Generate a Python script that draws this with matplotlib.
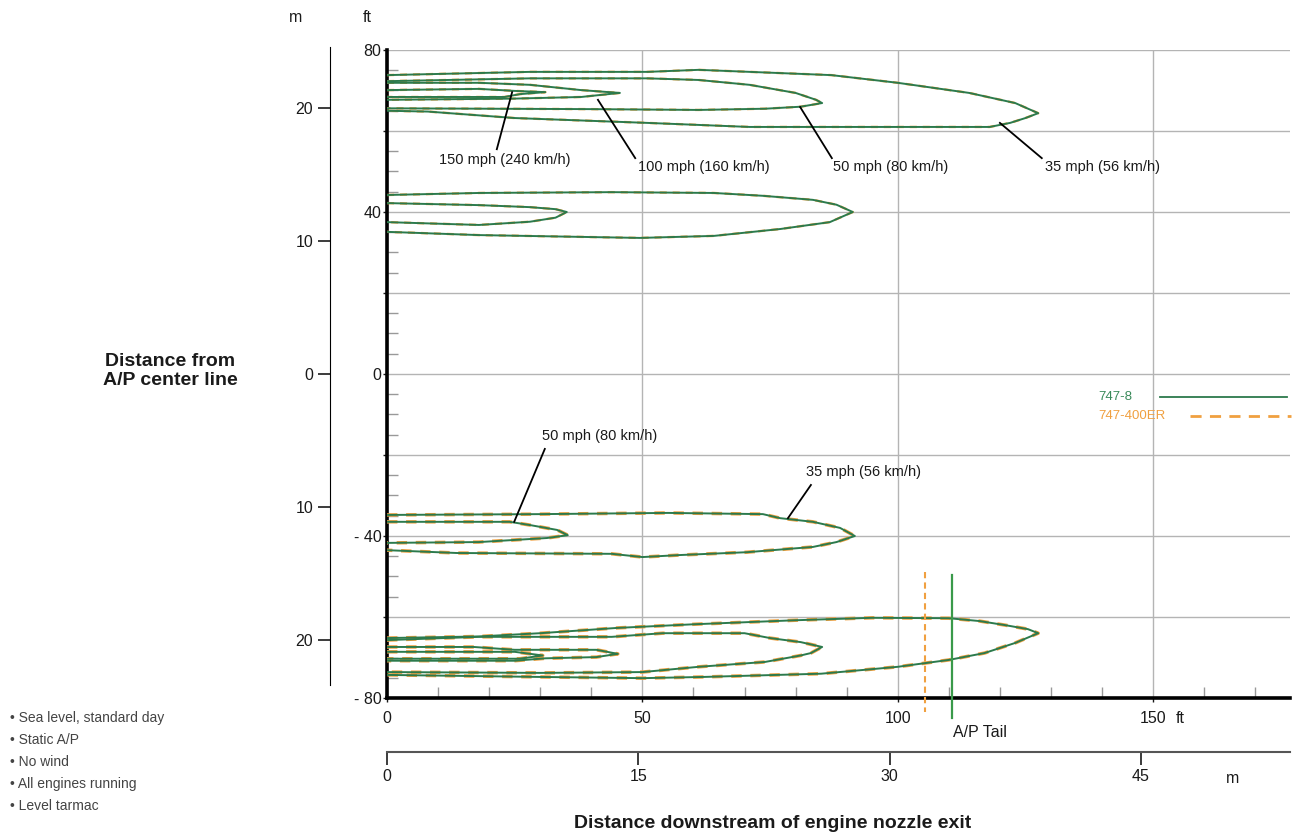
import numpy as np
import matplotlib.pyplot as plt

plt.rcParams['font.family'] = ['Liberation Sans', 'DejaVu Sans']

# jet blast contours of the 747-8
# x = ft downstream of nozzle, y = ft from airplane centre line
# every contour: upper edge and lower edge, both from nozzle to tip

# outboard engine, upper side
a35_up = [(0, 73.8), (28, 74.6), (51, 74.6), (61, 75.1), (71, 74.6), (87, 73.8), (100, 71.9), (114, 69.4), (123, 66.9), (127.5, 64.4)]
a35_lo = [(0, 65.0), (8, 64.8), (25, 63.2), (51, 62.0), (71, 61.0), (100, 61.0), (118, 61.0), (122, 62.0), (125, 63.2), (127.5, 64.4)]
a50_up = [(0, 72.3), (28, 73.0), (51, 73.0), (61, 72.6), (71, 71.4), (80, 69.4), (84, 67.7), (85.2, 66.9)]
a50_lo = [(0, 65.6), (40, 65.4), (61, 65.2), (74, 65.5), (81, 66.0), (85.2, 66.9)]
a100_up = [(0, 71.9), (18, 71.9), (28, 71.4), (38, 70.1), (45.6, 69.4)]
a100_lo = [(0, 67.7), (25, 68.0), (38, 68.4), (45.6, 69.4)]
a150_up = [(0, 70.1), (18, 70.4), (25, 69.9), (31, 69.6)]
a150_lo = [(0, 68.4), (23, 68.4), (26, 69.1), (31, 69.6)]

# inboard engine, upper side
b35_up = [(0, 44.2), (18, 44.7), (44, 44.9), (64, 44.7), (73.6, 44.0), (83.4, 43.0), (88, 41.8), (91.2, 40.0)]
b35_lo = [(0, 35.1), (18, 34.3), (49.5, 33.6), (64, 34.1), (77, 35.8), (86.7, 37.5), (91.2, 40.0)]
b50_up = [(0, 42.2), (18, 41.7), (28, 41.2), (33, 40.7), (35.2, 40.0)]
b50_lo = [(0, 37.5), (18, 36.8), (28, 37.6), (33, 38.6), (35.2, 40.0)]

# inboard engine, lower side
c35_up = [(0, -34.8), (30, -34.6), (55, -34.3), (73.6, -34.6), (77, -35.6), (83.4, -36.5), (88.7, -38.0), (91.6, -40.0)]
c35_lo = [(0, -43.5), (13.7, -44.2), (44, -44.4), (50, -45.2), (57.4, -44.7), (70.5, -44.0), (83.4, -42.7), (88, -41.5), (91.6, -40.0)]
c50_up = [(0, -36.5), (24, -36.5), (28, -37.3), (33.3, -38.5), (35.4, -39.8)]
c50_lo = [(0, -41.7), (18, -41.5), (31.3, -40.5), (35.4, -39.8)]

# outboard engine, lower side
d35_up = [(0, -65.2), (18, -64.8), (30, -64.0), (45, -62.7), (60, -61.8), (80, -60.8), (95, -60.2), (110, -60.3), (116, -61.0), (121, -62.0), (125.5, -63.0), (127.5, -64.0)]
d35_lo = [(0, -74.3), (30, -74.8), (50, -75.1), (62, -74.8), (85, -74.0), (93, -73.1), (100, -72.3), (110, -70.6), (117, -68.9), (123, -66.4), (127.5, -64.0)]
d50_up = [(0, -65.7), (18, -64.9), (44, -64.9), (54, -64.0), (70, -64.0), (75, -65.2), (81, -66.2), (85.2, -67.4)]
d50_lo = [(0, -73.6), (30, -73.8), (50, -73.6), (61, -72.3), (74, -71.1), (81, -69.5), (83, -68.9), (85.2, -67.4)]
d100_up = [(0, -67.4), (17, -67.4), (25, -68.1), (41, -68.1), (45.2, -69.1)]
d100_lo = [(0, -70.8), (25, -70.8), (31, -70.2), (41, -69.9), (45.2, -69.1)]
d150_up = [(0, -68.6), (25, -68.6), (30.5, -69.5)]
d150_lo = [(0, -70.3), (26, -70.3), (30.5, -69.5)]

upper_contours = [(a35_up, a35_lo), (a50_up, a50_lo), (a100_up, a100_lo), (a150_up, a150_lo),
                  (b35_up, b35_lo), (b50_up, b50_lo)]
lower_contours = [(c35_up, c35_lo), (c50_up, c50_lo),
                  (d35_up, d35_lo), (d50_up, d50_lo), (d100_up, d100_lo), (d150_up, d150_lo)]

# airplane tail position (ft downstream)
tail_747_8 = 110.6
tail_747_400er = 105.3

models = ['747-8', '747-400ER']
speed_labels = ['150 mph (240 km/h)', '100 mph (160 km/h)', '50 mph (80 km/h)', '35 mph (56 km/h)']
notes = ['Sea level, standard day', 'Static A/P', 'No wind', 'All engines running', 'Level tarmac']

green = '#2c7a4c'
orange = '#f0a040'
ink = '#1a1a1a'


def outline(up, lo):
    pts = up + lo[::-1][1:]
    return [p[0] for p in pts], [p[1] for p in pts]


fig = plt.figure(figsize=(12.93, 8.38), dpi=100)
ax = fig.add_axes([387 / 1293, 1 - 698 / 838, 903 / 1293, 648 / 838])
ax.set_xlim(0, 176.8)
ax.set_ylim(-80, 80)

# 747-400ER drawn under the 747-8 (outlines almost the same)
for up, lo in upper_contours:
    xs, ys = outline(up, lo)
    ax.plot(xs, ys, color=orange, lw=1.7, ls=(0, (3, 2.5)), zorder=3)
for up, lo in lower_contours:
    xs, ys = outline(up, lo)
    ax.plot(xs, ys, color=orange, lw=2.5, ls=(0, (3, 2.5)), zorder=3)
for up, lo in upper_contours + lower_contours:
    xs, ys = outline(up, lo)
    ax.plot(xs, ys, color=green, lw=1.4, zorder=4)

# tail lines
ax.plot([tail_747_400er, tail_747_400er], [-49, -83.5], color=orange, lw=1.5, ls=(0, (3, 2)), clip_on=False, zorder=5)
ax.plot([tail_747_8, tail_747_8], [-49.6, -85], color='#3a9a4a', lw=1.6, clip_on=False, zorder=5)
ax.text(tail_747_8 + 0.3, -88.6, 'A/P Tail', fontsize=11.5, ha='left', va='center', color=ink)

# speed labels with leader lines
lbl = dict(fontsize=10.5, color=ink)
leaders = [((24.5, 69.6), (21.5, 55.5)), ((41.3, 67.7), (48.6, 53.3)), ((80.9, 65.9), (87.1, 53.3)),
           ((120, 62.0), (128.2, 53.3)), ((24.9, -36.5), (30.9, -18.5)), ((78.5, -35.6), (83.0, -27.4))]
for (p0, p1) in leaders:
    ax.plot([p0[0], p1[0]], [p0[1], p1[1]], color='black', lw=1.3, zorder=6)
ax.text(23.0, 52.8, speed_labels[0], ha='center', va='center', **lbl)
ax.text(49.1, 51.1, speed_labels[1], ha='left', va='center', **lbl)
ax.text(87.3, 51.1, speed_labels[2], ha='left', va='center', **lbl)
ax.text(128.8, 51.1, speed_labels[3], ha='left', va='center', **lbl)
ax.text(30.3, -15.3, speed_labels[2], ha='left', va='center', **lbl)
ax.text(82.0, -24.2, speed_labels[3], ha='left', va='center', **lbl)

# legend
ax.text(139.2, -5.7, models[0], color='#3a8a5a', fontsize=9.5, va='center', ha='left')
ax.plot([151.4, 176.2], [-5.7, -5.7], color=green, lw=1.3, clip_on=False)
ax.text(139.2, -10.4, models[1], color=orange, fontsize=9.5, va='center', ha='left')
ax.plot([157.2, 177.0], [-10.4, -10.4], color=orange, lw=2, ls=(0, (4, 3)), clip_on=False)

# axes styling
for s in ['top', 'right']:
    ax.spines[s].set_visible(False)
for s in ['left', 'bottom']:
    ax.spines[s].set_linewidth(2.6)
ax.set_yticks(np.arange(-80, 81, 20))
ax.set_yticklabels(['- 80', '', '- 40', '', '0', '', '40', '', '80'])
ax.set_yticks(np.arange(-80, 81, 5), minor=True)
ax.set_xticks([0, 50, 100, 150])
ax.set_xticklabels(['0', '50', '100', '150'])
ax.set_xticks(np.arange(0, 177, 10), minor=True)
ax.tick_params(axis='both', which='major', direction='out', length=3, width=1, labelsize=11.5, colors=ink)
ax.tick_params(axis='x', which='major', pad=6)
ax.tick_params(axis='y', which='major', pad=1)
ax.tick_params(axis='both', which='minor', direction='in', length=8, width=1, color='#999999')
ax.grid(True, which='major', color='#b4b4b4', lw=1)
ax.set_axisbelow(True)

# metric scales
ft2m = (lambda v: v * 0.3048, lambda v: v / 0.3048)
secy = ax.secondary_yaxis(-57 / 903, functions=ft2m)
secy.set_yticks([-20, -10, 0, 10, 20])
secy.set_yticklabels(['20', '10', '0', '10', '20'])
secy.spines['left'].set_bounds(-23.4, 24.6)
secy.tick_params(direction='out', length=9, width=1.2, labelsize=11.5, pad=3, colors=ink)

secx = ax.secondary_xaxis(-54 / 648, functions=ft2m)
secx.set_xticks([0, 15, 30, 45])
secx.tick_params(direction='out', length=9, width=1.2, labelsize=11.5, pad=3, colors=ink)
secx.spines['bottom'].set_color('#555555')
secx.spines['bottom'].set_linewidth(1.5)

fig.text(1180 / 1293, 1 - 718 / 838, 'ft', fontsize=11.5, ha='center', va='center', color=ink)
fig.text(1233 / 1293, 1 - 778 / 838, 'm', fontsize=11.5, ha='center', va='center', color=ink)
fig.text(296 / 1293, 1 - 18 / 838, 'm', fontsize=11.5, ha='center', va='center', color=ink)
fig.text(367 / 1293, 1 - 18 / 838, 'ft', fontsize=11.5, ha='center', va='center', color=ink)

fig.text(170 / 1293, 1 - 371 / 838, 'Distance from\nA/P center line', fontsize=14, fontweight='bold',
         ha='center', va='center', linespacing=1.15, color=ink)
fig.text(773 / 1293, 1 - 823 / 838, 'Distance downstream of engine nozzle exit', fontsize=14,
         fontweight='bold', ha='center', va='center', color=ink)

for i, n in enumerate(notes):
    fig.text(10 / 1293, 1 - (718 + 22 * i) / 838, u'\u2022 ' + n, fontsize=10, color='#444444', ha='left', va='center')

fig.savefig('out.png', dpi=100)
